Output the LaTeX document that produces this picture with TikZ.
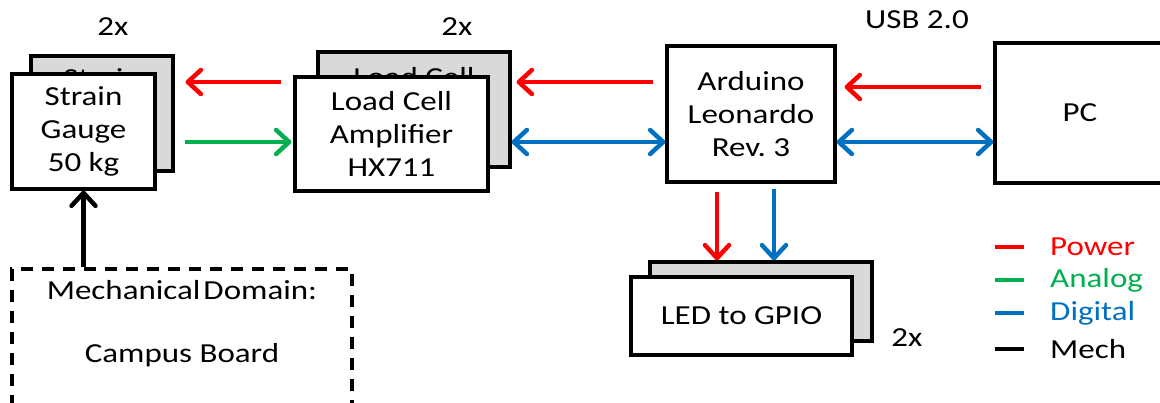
\documentclass[tikz,border=0pt]{standalone}
\usepackage{fontspec}
\setmainfont{Carlito}[FakeStretch=1.2]
\frenchspacing
\usetikzlibrary{arrows.meta,calc}
\definecolor{cred}{HTML}{FF0000}
\definecolor{cgreen}{HTML}{00B050}
\definecolor{cblue}{HTML}{0070C0}
\definecolor{boxgrey}{HTML}{D9D9D9}
\begin{document}
\begin{tikzpicture}[x=1pt,y=-1pt,
  txt/.style={font=\fontsize{27.5}{33}\selectfont, inner sep=0pt},
  box/.style={txt, draw=black, line width=3.2pt, fill=white, align=center},
  backbox/.style={box, fill=boxgrey},
  conn/.style={line width=4.5pt, line cap=butt,
    -{Straight Barb[length=13pt,width=24pt,line cap=round,line join=round]}},
  dconn/.style={line width=4.5pt,
    {Straight Barb[length=13pt,width=24pt,line cap=round,line join=round]}-{Straight Barb[length=13pt,width=24pt,line cap=round,line join=round]}},
  power/.style={conn, draw=cred},
  analog/.style={conn, draw=cgreen},
  digital/.style={conn, draw=cblue},
  mechc/.style={conn, draw=black},
  legline/.style={line width=4.5pt},
]
\useasboundingbox (0,0) rectangle (1160,403);
\clip (0,0) rectangle (1160,403);
\fill[white] (0,0) rectangle (1160,403);

% row coordinates
\coordinate (rowP) at (0,82);
\coordinate (rowP2) at (0,87);
\coordinate (rowD) at (0,142);
\coordinate (colR) at (717,0);
\coordinate (colB) at (774,0);

% strain gauge
\node[backbox, minimum width=142pt, minimum height=115pt] (sgb) at (102,113.5) {Strain\\\phantom{Gauge}\\\phantom{50 kg}};
\node[box, minimum width=143pt, minimum height=115pt] (sg) at (83.5,131.5) {Strain\\Gauge\\50 kg};
\node[txt] (sgn) at (113,27) {2x};

% load cell
\node[backbox, minimum width=192pt, minimum height=115pt] (lcb) at (414,109.5) {Load Cell\\\phantom{Amplifier}\\\phantom{HX711}};
\node[box, minimum width=193pt, minimum height=114pt] (lc) at (391.5,134) {Load Cell\\Amplifier\\HX711};
\node[txt] (lcn) at (457,27) {2x};

% arduino
\node[box, minimum width=168pt, minimum height=136pt] (ard) at (751,114) {Arduino\\Leonardo\\Rev. 3};

% PC
\node[box, minimum width=170pt, minimum height=140pt] (pc) at (1080,113) {PC};
\node[txt] (usb) at (917,20) {USB 2.0};

% LED
\node[backbox, minimum width=222pt, minimum height=79pt] (ledb) at (761,301.5) {};
\node[box, minimum width=221pt, minimum height=78pt] (led) at (741.5,316) {LED to GPIO};
\node[txt] (ledn) at (907,338) {2x};

% mechanical domain
\node[draw=black, line width=3.5pt, dash pattern=on 12pt off 9pt, minimum width=340pt, minimum height=160pt, inner sep=0pt] (mech) at (182,349) {};
\node[txt] (mt1) at (182,290) {Mechanical\hspace{3pt}Domain:};
\node[txt] (mt2) at (182,355) {Campus Board};

% connectors
\draw[power, shorten <=12pt, shorten >=11pt] (lc.west |- rowP) -- (sgb.east |- rowP);
\draw[analog, shorten <=10pt, shorten >=2pt] (sgb.east |- rowD) -- (lc.west |- rowD);
\draw[power, shorten <=12pt, shorten >=5pt] (ard.west |- rowP) -- (lcb.east |- rowP);
\draw[digital, dconn] (lcb.east |- rowD) -- (ard.west |- rowD);
\draw[power, shorten <=12pt, shorten >=8pt] (pc.west |- rowP2) -- (ard.east |- rowP2);
\draw[digital, dconn] (ard.east |- rowD) -- (pc.west |- rowD);
\draw[power, shorten <=8pt] (ard.south -| colR) -- (ledb.north -| colR);
\draw[digital, shorten <=5pt] (ard.south -| colB) -- (ledb.north -| colB);
\draw[mechc] (mech.north -| sg.south) -- (sg.south);

% legend
\node[txt, anchor=west, text=cred] (lgP) at (1050,247) {Power};
\node[txt, anchor=west, text=cgreen] (lgA) at (1050,280) {Analog};
\node[txt, anchor=west, text=cblue] (lgD) at (1050,313) {Digital};
\node[txt, anchor=west, text=black] (lgM) at (1050,349) {Mech};
\draw[legline, cred] ([xshift=-55pt]lgP.west) -- ([xshift=-26pt]lgP.west);
\draw[legline, cgreen] ([xshift=-55pt]lgA.west) -- ([xshift=-26pt]lgA.west);
\draw[legline, cblue] ([xshift=-55pt]lgD.west) -- ([xshift=-26pt]lgD.west);
\draw[legline, black] ([xshift=-55pt]lgM.west) -- ([xshift=-26pt]lgM.west);
\end{tikzpicture}
\end{document}
